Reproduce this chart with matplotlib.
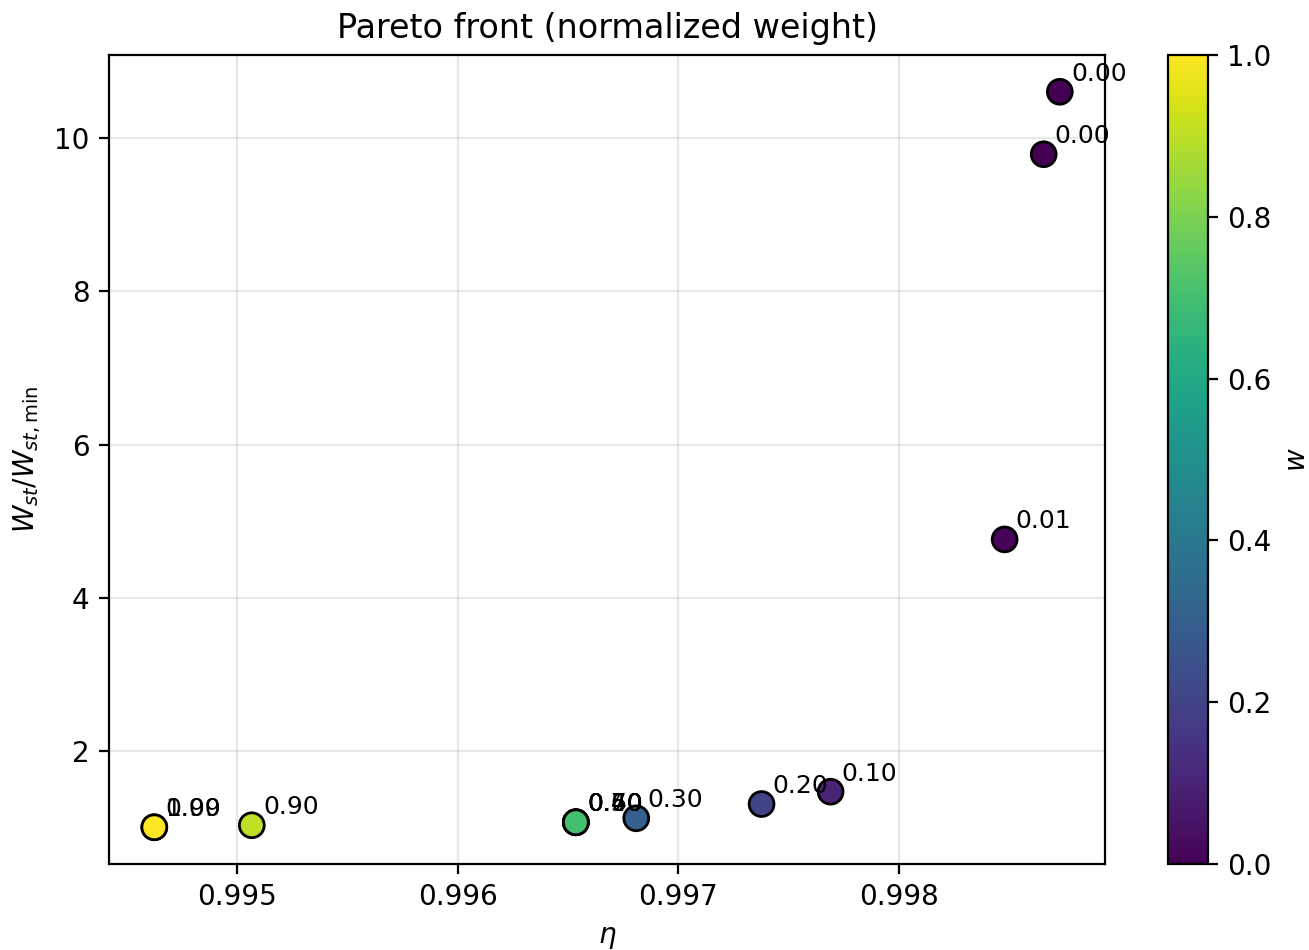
import numpy as np
import matplotlib
matplotlib.use("Agg")
import matplotlib.pyplot as plt

# Pareto front points (weight w, efficiency eta, normalized weight)
w = [0.00, 0.00, 0.01, 0.10, 0.20, 0.30, 0.40, 0.50, 0.60, 0.70, 0.90, 0.99, 1.00]
eta = [0.998730, 0.998657, 0.998480, 0.997691, 0.997378, 0.996810,
       0.996536, 0.996536, 0.996536, 0.996536, 0.995067, 0.994625, 0.994625]
w_norm = [10.603, 9.788, 4.762, 1.470, 1.309, 1.123,
          1.071, 1.071, 1.071, 1.071, 1.032, 1.006, 1.006]

fig = plt.figure(figsize=(6.545, 4.75))
ax = fig.add_axes([0.0833, 0.0905, 0.7609, 0.8516])
cax = fig.add_axes([0.8923, 0.0905, 0.0305, 0.8516])

sc = ax.scatter(eta, w_norm, c=w, cmap="viridis", vmin=0, vmax=1,
                s=80, edgecolors="black", linewidths=1.0, zorder=3)

for wi, x, y in zip(w, eta, w_norm):
    ax.annotate(f"{wi:.2f}", (x, y), textcoords="offset points",
                xytext=(4, 4), fontsize=9)

cbar = fig.colorbar(sc, cax=cax)
cbar.set_label("$w$")

ax.set_xlabel(r"$\eta$")
ax.set_ylabel(r"$W_{st}/W_{st,\mathrm{min}}$")
ax.set_title("Pareto front (normalized weight)")
ax.grid(True, alpha=0.3)

plt.savefig("out.png", dpi=200)
